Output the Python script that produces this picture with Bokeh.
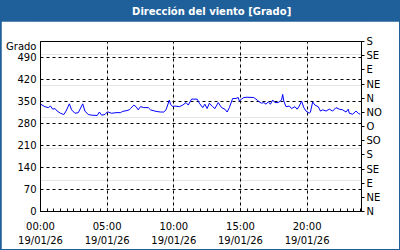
from bokeh.plotting import figure
from bokeh.layouts import column
from bokeh.models import (Range1d, LinearAxis, FixedTicker, ColumnDataSource, Grid)
from bokeh.core.properties import value
from bokeh.embed import file_html
from bokeh.resources import INLINE

# ---------------- data ----------------
TITLE = "Dirección del viento [Grado]"
Y_LABEL = "Grado"
DATE_LABEL = "19/01/26"

times = ["00:00", "00:20", "00:35", "00:45", "00:55", "01:05", "01:15", "01:30", "01:45", "01:55",
         "02:10", "02:20", "02:35", "02:50", "03:10", "03:20", "03:35", "03:50", "04:15", "04:25",
         "04:35", "04:50", "05:00",
         "05:05", "05:20", "05:40", "06:00", "06:10", "06:25", "06:40", "06:45", "07:00", "07:10",
         "07:20", "07:30", "07:45", "08:05", "08:15", "08:40", "09:00", "09:15", "09:25", "09:40",
         "09:45", "09:55", "10:05",
         "10:25", "10:40", "10:55", "11:05", "11:20", "11:45", "11:55", "12:10", "12:20", "12:30",
         "12:40", "12:55", "13:05", "13:20", "13:35", "13:50", "14:00", "14:10", "14:25", "14:40",
         "14:50", "14:55", "15:05",
         "15:15", "15:30", "16:00", "16:15", "16:25", "16:35", "16:45", "16:55", "17:05", "17:15",
         "17:25", "17:35", "17:50", "18:05", "18:10", "18:15", "18:25", "18:40", "18:50", "19:05",
         "19:15", "19:25", "19:35", "19:45", "19:55", "20:10",
         "20:15", "20:25", "20:35", "20:50", "21:00", "21:10", "21:25", "21:40", "21:55", "22:10",
         "22:25", "22:40", "22:55", "23:05", "23:10", "23:25", "23:40", "23:50", "23:59"]

direction = [341, 333, 330, 335, 325, 327, 319, 312, 308, 319,
             342, 323, 312, 314, 342, 319, 308, 306, 305, 316,
             306, 308, 316,
             316, 312, 314, 314, 318, 320, 323, 327, 338, 333,
             323, 333, 330, 330, 323, 318, 316, 316, 323, 354,
             341, 333, 335,
             333, 338, 346, 338, 357, 357, 344, 330, 341, 327,
             344, 333, 327, 346, 330, 325, 316, 330, 359, 359,
             362, 351, 357,
             362, 363, 362, 354, 348, 344, 346, 341, 348, 341,
             354, 346, 346, 354, 372, 351, 333, 335, 327, 333,
             325, 335, 351, 330, 319, 312,
             316, 348, 338, 333, 319, 323, 319, 325, 319, 330,
             325, 323, 316, 325, 312, 309, 319, 312, 309]

x_major_hours = [0, 5, 10, 15, 20]
y_left_ticks = [0, 70, 140, 210, 280, 350, 420, 490]
y_right_ticks = [0, 45, 90, 135, 180, 225, 270, 315, 360, 405, 450, 495, 540]
compass = ["N", "NE", "E", "SE", "S", "SO", "O", "NO", "N", "NE", "E", "SE", "S"]

# ---------------- style / layout ----------------
BLUE = "#1f5f9a"
FONT = "DejaVu Sans"
FS = "10px"
X0, X1 = 0, 24.08
Y0, Y1 = 0, 540
UNIT_LABEL_POS = 524   # where the unit caption sits on the left scale
TITLE_X = 0.533        # horizontal centre of the title in the bar (fraction)

hours = [int(t[:2]) + int(t[3:]) / 60 for t in times]
src = ColumnDataSource(dict(x=hours, y=direction))

# --- title bar ---
tb = figure(width=400, height=21, output_backend="svg", toolbar_location=None,
            x_range=Range1d(0, 1), y_range=Range1d(0, 1),
            x_axis_location=None, y_axis_location=None,
            min_border=0, min_border_left=0, min_border_right=0,
            min_border_top=0, min_border_bottom=0,
            background_fill_color=BLUE, border_fill_color=BLUE)
tb.outline_line_color = None
tb.xgrid.visible = False
tb.ygrid.visible = False
tb.text(x=[TITLE_X], y=[0.5], text=[TITLE], text_align="center", text_baseline="middle",
        text_color="white", text_font=value(FONT), text_font_style="bold",
        text_font_size="10px")

# --- chart ---
p = figure(width=398, height=228, output_backend="svg", toolbar_location=None,
           x_range=Range1d(X0, X1), y_range=Range1d(Y0, Y1),
           x_axis_location=None, y_axis_location=None,
           min_border_left=39, min_border_right=38, min_border_top=20, min_border_bottom=38,
           background_fill_color="white", border_fill_color="white",
           margin=(0, 1, 1, 1))
p.outline_line_color = "black"
p.outline_line_width = 1
p.outline_line_alpha = 1

# left axis (values + unit caption on top)
left_labels = {t: str(t) for t in y_left_ticks}
left_labels[UNIT_LABEL_POS] = Y_LABEL
la = LinearAxis(ticker=FixedTicker(ticks=y_left_ticks + [UNIT_LABEL_POS], minor_ticks=[]),
                major_tick_in=0, major_tick_out=0, minor_tick_in=0, minor_tick_out=0,
                axis_line_color="black", major_label_standoff=4,
                major_label_overrides=left_labels,
                major_label_text_font=FONT, major_label_text_font_size=FS,
                major_label_text_color="black")
p.add_layout(la, "left")

# right compass axis
ra = LinearAxis(ticker=FixedTicker(ticks=y_right_ticks, minor_ticks=[]),
                major_tick_in=0, major_tick_out=3, minor_tick_in=0, minor_tick_out=0,
                major_tick_line_color="black",
                axis_line_color="black", major_label_standoff=2,
                major_label_overrides={t: c for t, c in zip(y_right_ticks, compass)},
                major_label_text_font=FONT, major_label_text_font_size=FS,
                major_label_text_color="black")
p.add_layout(ra, "right")

# bottom time axis
ba = LinearAxis(ticker=FixedTicker(ticks=x_major_hours,
                                   minor_ticks=[i * 0.5 for i in range(49)]),
                major_tick_in=3, major_tick_out=0, minor_tick_in=3, minor_tick_out=0,
                major_tick_line_color="black", minor_tick_line_color="black",
                axis_line_color="black", major_label_standoff=9,
                major_label_overrides={h: f"{h:02d}:00" for h in x_major_hours},
                major_label_text_font=FONT, major_label_text_font_size=FS,
                major_label_text_color="black")
p.add_layout(ba, "below")

# bottom date axis
da = LinearAxis(ticker=FixedTicker(ticks=x_major_hours, minor_ticks=[]),
                major_tick_in=0, major_tick_out=0, minor_tick_in=0, minor_tick_out=0,
                axis_line_color=None, major_label_standoff=0,
                major_label_overrides={h: DATE_LABEL for h in x_major_hours},
                major_label_text_font=FONT, major_label_text_font_size=FS,
                major_label_text_color="black")
p.add_layout(da, "below")

# grids
p.add_layout(Grid(dimension=1, ticker=FixedTicker(ticks=y_left_ticks),
                  grid_line_color="black", grid_line_dash="3 3", grid_line_width=1))
p.add_layout(Grid(dimension=0, ticker=FixedTicker(ticks=x_major_hours),
                  grid_line_color="black", grid_line_dash="3 3", grid_line_width=1))

p.line("x", "y", source=src, line_color="#0000ff", line_width=1)

layout = column(tb, p, spacing=0, styles={"background-color": BLUE})

open("out.html", "w").write(file_html(layout, INLINE))
